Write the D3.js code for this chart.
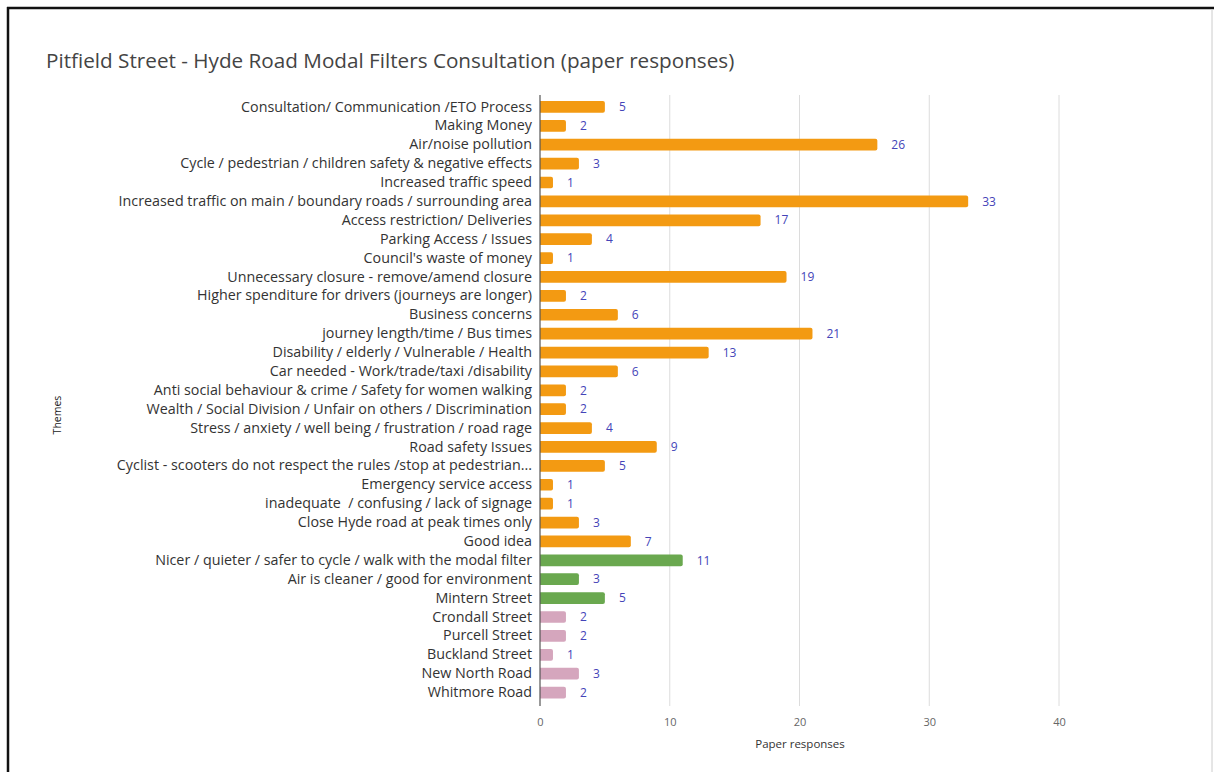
<!DOCTYPE html>
<html><head><meta charset="utf-8">
<script src="https://cdn.jsdelivr.net/npm/d3@7"></script>
<style>
html,body{margin:0;padding:0;background:#fff;}
svg{display:block;}
svg text{white-space:pre;}
</style></head>
<body><svg id="c" width="1214" height="772"></svg>
<script>
const categories = [
  "Consultation/ Communication /ETO Process",
  "Making Money",
  "Air/noise pollution",
  "Cycle / pedestrian / children safety & negative effects",
  "Increased traffic speed",
  "Increased traffic on main / boundary roads / surrounding area",
  "Access restriction/ Deliveries",
  "Parking Access / Issues",
  "Council's waste of money",
  "Unnecessary closure - remove/amend closure",
  "Higher spenditure for drivers (journeys are longer)",
  "Business concerns",
  "journey length/time / Bus times",
  "Disability / elderly / Vulnerable / Health",
  "Car needed - Work/trade/taxi /disability",
  "Anti social behaviour & crime / Safety for women walking",
  "Wealth / Social Division / Unfair on others / Discrimination",
  "Stress / anxiety / well being / frustration / road rage",
  "Road safety Issues",
  "Cyclist - scooters do not respect the rules /stop at pedestrian...",
  "Emergency service access",
  "inadequate  / confusing / lack of signage",
  "Close Hyde road at peak times only",
  "Good idea",
  "Nicer / quieter / safer to cycle / walk with the modal filter",
  "Air is cleaner / good for environment",
  "Mintern Street",
  "Crondall Street",
  "Purcell Street",
  "Buckland Street",
  "New North Road",
  "Whitmore Road"
];
const values = [5,2,26,3,1,33,17,4,1,19,2,6,21,13,6,2,2,4,9,5,1,1,3,7,11,3,5,2,2,1,3,2];
const groups = ["neg","neg","neg","neg","neg","neg","neg","neg","neg","neg","neg","neg","neg","neg","neg","neg","neg","neg","neg","neg","neg","neg","neg","neg","pos","pos","pos","street","street","street","street","street"];
const xTicks = [0,10,20,30,40];
const title = "Pitfield Street - Hyde Road Modal Filters Consultation (paper responses)";
const xTitle = "Paper responses";
const yTitle = "Themes";

const colors = {neg:"#f39a12", pos:"#6aa84f", street:"#d5a6bd"};
const font = "Open Sans, sans-serif";

const svg = d3.select("#c");
svg.append("rect").attr("x",0).attr("y",0).attr("width",1214).attr("height",772).attr("fill","#fff");
svg.append("line").attr("x1",7).attr("x2",1214).attr("y1",8).attr("y2",8).attr("stroke","#111").attr("stroke-width",2.5);
svg.append("line").attr("x1",8).attr("x2",8).attr("y1",7).attr("y2",772).attr("stroke","#111").attr("stroke-width",2.5);
svg.append("line").attr("x1",1212).attr("x2",1212).attr("y1",9).attr("y2",772).attr("stroke","#ccc").attr("stroke-width",1);

const x = d3.scaleLinear().domain([0,40]).range([540,1059]);
const y = d3.scaleBand().domain(categories).range([97.5,702]).paddingInner(0.38).paddingOuter(0.19);

svg.append("text").attr("x",46).attr("y",68).text(title)
  .attr("font-family",font).attr("font-size",20.7).attr("fill","#444");

const grid = svg.append("g");
grid.selectAll("line").data(xTicks.filter(d=>d>0)).join("line")
  .attr("x1",d=>x(d)).attr("x2",d=>x(d)).attr("y1",95).attr("y2",706)
  .attr("stroke","#dcdcdc").attr("stroke-width",1);

const r = 2;
svg.append("g").selectAll("path").data(categories).join("path")
  .attr("d",(c,i)=>{
    const x0=x(0), x1=x(values[i]), y0=y(c), h=y.bandwidth();
    const rr=Math.min(r,(x1-x0)/2);
    return `M${x0},${y0}H${x1-rr}Q${x1},${y0} ${x1},${y0+rr}V${y0+h-rr}Q${x1},${y0+h} ${x1-rr},${y0+h}H${x0}Z`;
  })
  .attr("fill",(c,i)=>colors[groups[i]]);

svg.append("g").selectAll("text").data(categories).join("text")
  .attr("x",(c,i)=>x(values[i])+14)
  .attr("y",c=>y(c)+y.bandwidth()/2)
  .attr("dy","0.35em")
  .text((c,i)=>values[i])
  .attr("font-family",font).attr("font-size",12).attr("fill","#4444b8");

const yAxis = d3.axisLeft(y).tickSize(0).tickPadding(8);
const gy = svg.append("g").attr("transform","translate(540,0)").call(yAxis);
gy.select(".domain").remove();
gy.selectAll("text").attr("font-family",font).attr("font-size",14.3).attr("fill","#333");
svg.append("line").attr("x1",540).attr("x2",540).attr("y1",95).attr("y2",706).attr("stroke","#555").attr("stroke-width",1.2);

const xAxis = d3.axisBottom(x).tickValues(xTicks).tickSize(0).tickPadding(10);
const gx = svg.append("g").attr("transform","translate(0,708)").call(xAxis);
gx.select(".domain").remove();
gx.selectAll("text").attr("font-family",font).attr("font-size",11).attr("fill","#666");

svg.append("text").attr("x",800).attr("y",748).attr("text-anchor","middle").text(xTitle)
  .attr("font-family",font).attr("font-size",11.5).attr("fill","#333");
svg.append("text").attr("transform","translate(61,415) rotate(-90)").attr("text-anchor","middle").text(yTitle)
  .attr("font-family",font).attr("font-size",10.5).attr("fill","#222");
</script>
</body></html>
